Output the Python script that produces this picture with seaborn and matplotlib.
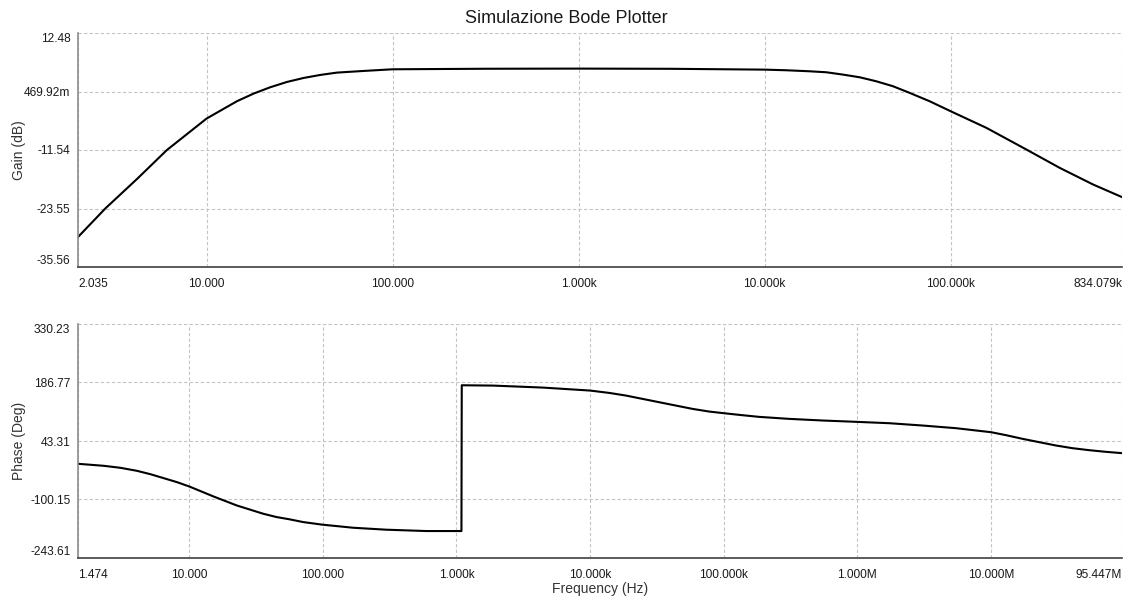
import matplotlib
matplotlib.use("Agg")
import matplotlib.pyplot as plt
import seaborn as sns

# Gain response (frequency in Hz, gain in dB)
gain_freq_hz = [2.035, 2.853, 4.222, 6.118, 10.0, 14.55, 17.89, 21.98, 27.03,
                33.23, 40.84, 50.2, 69.85, 100.0, 316.2, 1000.0, 3162.0,
                10000.0, 13077.0, 17458.0, 21455.0, 26363.0, 32434.0, 39811.0,
                48978.0, 60256.0, 77090.0, 100000.0, 155597.0, 255270.0,
                385478.0, 582103.0, 834079.0]
gain_db = [-29.41, -23.55, -17.5, -11.54, -5.08, -1.53, 0.04, 1.34, 2.43,
           3.25, 3.87, 4.35, 4.69, 5.03, 5.14, 5.17, 5.13, 4.96, 4.83, 4.62,
           4.42, 3.94, 3.39, 2.57, 1.55, 0.18, -1.53, -3.58, -6.99, -11.44,
           -15.2, -18.61, -21.21]

# Phase response (frequency in Hz, phase in degrees)
phase_freq_hz = [1.474, 2.295, 3.056, 4.07, 5.117, 6.435, 8.091, 10.0, 15.19,
                 22.69, 35.86, 45.08, 56.72, 71.29, 100.0, 126.5, 168.3,
                 298.5, 593.8, 1090.0, 1096.0, 1879.0, 4436.0, 10000.0,
                 13932.0, 18578.0, 32885.0, 43853.0, 58345.0, 77804.0,
                 100000.0, 137721.0, 183654.0, 307610.0, 554626.0, 1.0e6,
                 1.7418e6, 3.0903e6, 5.482e6, 1.0e7, 1.2942e7, 1.7219e7,
                 2.2961e7, 3.0549e7, 4.0644e7, 5.42e7, 7.2111e7, 9.5447e7]
phase_deg = [-12.6, -17.5, -22.4, -29.8, -38.0, -47.7, -57.5, -68.1, -92.6,
             -114.7, -135.1, -143.2, -148.9, -155.5, -162.0, -165.3, -169.4,
             -174.2, -177.5, -177.5, 180.0, 179.2, 174.3, 167.0, 161.2,
             154.7, 138.4, 130.2, 122.1, 115.5, 111.5, 106.6, 102.5, 97.6,
             93.5, 90.2, 86.9, 81.2, 74.7, 64.9, 57.6, 48.6, 40.4, 32.3,
             25.7, 20.8, 16.8, 13.5]

# Axis ticks and their labels
gain_xticks = [2.035, 10, 100, 1000, 10000, 100000, 834079]
gain_xlabels = ["2.035", "10.000", "100.000", "1.000k", "10.000k",
                "100.000k", "834.079k"]
gain_yticks = [12.48, 0.46992, -11.54, -23.55, -35.56]
gain_ylabels = ["12.48", "469.92m", "-11.54", "-23.55", "-35.56"]

phase_xticks = [1.474, 10, 100, 1000, 10000, 100000, 1e6, 1e7, 95.447e6]
phase_xlabels = ["1.474", "10.000", "100.000", "1.000k", "10.000k",
                 "100.000k", "1.000M", "10.000M", "95.447M"]
phase_yticks = [330.23, 186.77, 43.31, -100.15, -243.61]
phase_ylabels = ["330.23", "186.77", "43.31", "-100.15", "-243.61"]

sns.set_style("white")
plt.rcParams["font.family"] = ["Liberation Sans", "DejaVu Sans"]

fig = plt.figure(figsize=(11.23, 6.01), dpi=100)
W, H = 1123.0, 601.0
ax_gain = fig.add_axes([78 / W, 1 - 267 / H, (1122 - 78) / W, (267 - 33) / H])
ax_phase = fig.add_axes([78 / W, 1 - 558 / H, (1122 - 78) / W, (558 - 324) / H])

text_color = "#1a1a1a"
grid_kw = dict(color="#c4c4c4", linestyle=(0, (3, 2)), linewidth=0.8)


def style_axes(ax, xticks, xlabels, yticks, ylabels, ylabel):
    ax.set_xscale("log")
    ax.set_xlim(xticks[0], xticks[-1])
    ax.set_ylim(yticks[-1], yticks[0])
    ax.set_xticks(xticks)
    ax.set_xticklabels(xlabels)
    ax.set_yticks(yticks)
    ax.set_yticklabels(ylabels)
    ax.minorticks_off()
    ax.tick_params(axis="both", which="major", direction="out", length=2.5,
                   width=0.8, color="#555555", labelsize=8.6,
                   labelcolor=text_color, pad=3)
    ax.tick_params(axis="x", pad=5.5)
    ax.grid(True, **grid_kw)
    for side in ("top", "right"):
        ax.spines[side].set_visible(False)
    ax.spines["left"].set_color("#8c8c8c")
    ax.spines["left"].set_linewidth(1.2)
    ax.spines["bottom"].set_color("#404040")
    ax.spines["bottom"].set_linewidth(1.2)
    xl = ax.get_xticklabels()
    xl[0].set_horizontalalignment("left")
    xl[-1].set_horizontalalignment("right")
    yl = ax.get_yticklabels()
    yl[0].set_verticalalignment("top")
    yl[-1].set_verticalalignment("bottom")
    ax.set_ylabel(ylabel, fontsize=10, color="#333333")
    ax.yaxis.set_label_coords(-0.0495, 0.5)
    ax.set_xlabel("")


sns.lineplot(x=gain_freq_hz, y=gain_db, ax=ax_gain, color="black",
             linewidth=1.5, sort=False, estimator=None)
style_axes(ax_gain, gain_xticks, gain_xlabels, gain_yticks, gain_ylabels,
           "Gain (dB)")

sns.lineplot(x=phase_freq_hz, y=phase_deg, ax=ax_phase, color="black",
             linewidth=1.5, sort=False, estimator=None)
style_axes(ax_phase, phase_xticks, phase_xlabels, phase_yticks, phase_ylabels,
           "Phase (Deg)")
ax_phase.set_xlabel("Frequency (Hz)", fontsize=10, color="#333333", labelpad=1)

fig.suptitle("Simulazione Bode Plotter", x=566 / W, y=1 - 10 / H, va="top",
             fontsize=13, color=text_color)

fig.savefig("out.png", dpi=100, facecolor="white")
